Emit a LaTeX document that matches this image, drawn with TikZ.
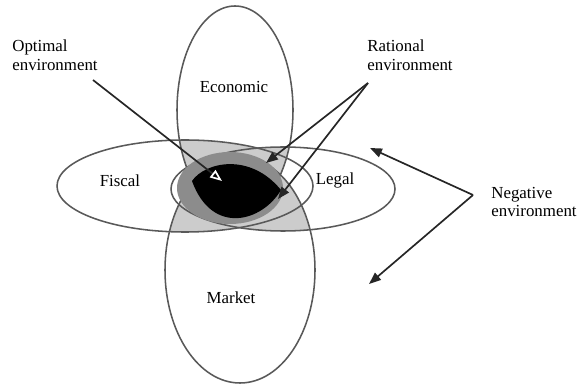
\documentclass[tikz,border=0pt]{standalone}
\usepackage{fontspec}
\setmainfont{Liberation Serif}
\usetikzlibrary{arrows.meta}

\newcommand{\econshape}{(235,110) ellipse [x radius=58, y radius=104]}
\newcommand{\fiscshape}{(185,186) ellipse [x radius=128, y radius=46]}
\newcommand{\legalshape}{(283,189) ellipse [x radius=112, y radius=42]}
\newcommand{\markshape}{(240,270) ellipse [x radius=75, y radius=113]}

\definecolor{rimgray}{gray}{0.35}
\definecolor{palegray}{gray}{0.8}
\definecolor{midgray}{gray}{0.55}

\tikzset{
  rim/.style={draw=rimgray, line width=1.1pt},
  lbl/.style={font=\fontsize{12}{13.5}\selectfont, inner sep=0pt},
  pointer/.style={draw=black!85, line width=1.2pt, -{Triangle[length=8.5pt,width=6.5pt]}},
}

\begin{document}
\begin{tikzpicture}[x=0.025cm,y=-0.025cm]
    \useasboundingbox (0,0) rectangle (583,385);
    % overlaps of a vertical and a horizontal field
    \foreach \ua/\ub in {econ/fisc,econ/legal,mark/fisc,mark/legal}{
        \begin{scope}
            \clip \csname\ua shape\endcsname;
            \fill[palegray] \csname\ub shape\endcsname;
        \end{scope}
    }
    \foreach \s in {econ,fisc,legal,mark}{
        \path[rim] \csname\s shape\endcsname;
    }
    \fill[midgray] (230,188) ellipse [x radius=53, y radius=36];
    \fill[black] (192,181) .. controls (205,162) and (250,152) .. (281,190)
        .. controls (262,222) and (212,236) .. (192,181);
    \node[lbl] (econ) at (234,87) {Economic};
    \node[lbl] (fisc) at (120,181) {Fiscal};
    \node[lbl] (legal) at (335,180) {Legal};
    \node[lbl] (mark) at (231,298) {Market};
    \node[lbl, align=left] (optimal) at (55,55) {Optimal\\ environment};
    \node[lbl, align=left] (rational) at (410,55) {Rational\\ environment};
    \node[lbl, align=left] (negative) at (534,202) {Negative\\ environment};
    \coordinate (optfoot) at (93,80);
    \coordinate (opttip) at (222,181);
    \coordinate (ratfoot) at (368,83);
    \coordinate (rattipa) at (266,163);
    \coordinate (rattipb) at (278,199);
    \coordinate (negfoot) at (473,195);
    \coordinate (negtipa) at (370,148);
    \coordinate (negtipb) at (369,284);
    \draw[pointer, -{Triangle[open,color=white,length=8.5pt,width=6.5pt]}] (optfoot) -- (opttip);
    \draw[pointer] (ratfoot) -- (rattipa);
    \draw[pointer] (ratfoot) -- (rattipb);
    \draw[pointer] (negfoot) -- (negtipa);
    \draw[pointer] (negfoot) -- (negtipb);
\end{tikzpicture}
\end{document}
